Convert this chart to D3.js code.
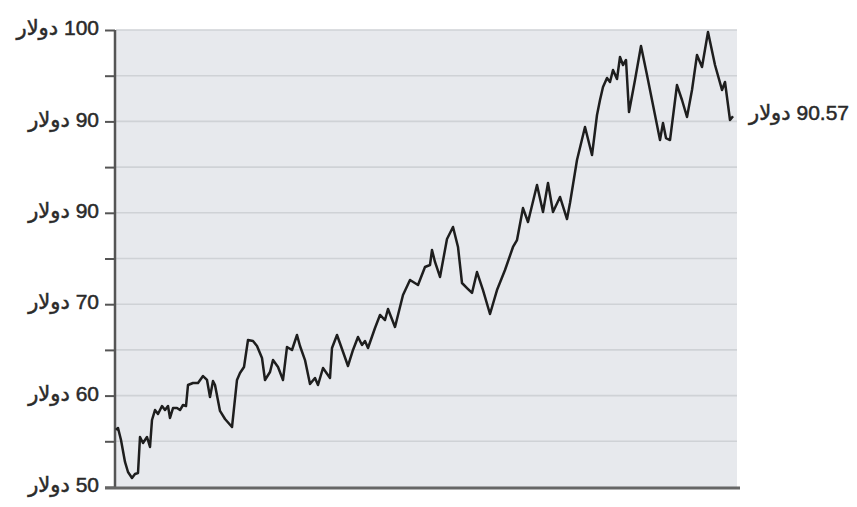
<!DOCTYPE html>
<html>
<head>
<meta charset="utf-8">
<script src="https://cdn.jsdelivr.net/npm/d3@7"></script>
<style>
  html, body { margin: 0; padding: 0; background: #fff; }
  svg { display: block; }
  text { font-family: "Liberation Sans", "DejaVu Sans", sans-serif; fill: #2a2a2a; }
</style>
</head>
<body>
<svg id="chart" width="857" height="507"></svg>
<script>
// trading-day index (relative) for each sampled point
const days = [
  0,2,5,9,12,16,19,22,24,27,
  31,34,36,39,42,46,49,52,54,57,
  61,64,67,70,72,77,82,87,91,94,
  97,99,104,109,116,121,124,128,132,137,
  141,146,149,154,157,162,167,171,176,181,
  184,189,194,199,202,207,214,216,221,226,
  232,237,242,246,249,252,259,264,269,272,
  279,287,294,302,309,314,316,319,324,331,
  337,342,346,351,356,361,367,374,381,389,
  397,401,407,412,421,427,432,437,444,451,
  454,461,469,476,481,484,487,491,494,497,
  501,504,507,510,513,519,525,531,537,544,
  547,550,554,561,566,571,576,581,586,592,
  599,606,609,614,617
];
// price in dollars
const prices = [
  56.24,56.46,55.14,52.74,51.64,50.98,51.42,51.53,55.47,54.81,
  55.47,54.38,57.33,58.42,57.99,58.86,58.42,58.86,57.55,58.64,
  58.64,58.42,58.97,58.86,61.16,61.38,61.38,62.14,61.71,59.85,
  61.60,61.16,58.32,57.44,56.56,61.71,62.47,63.13,66.08,65.97,
  65.43,64.11,61.71,62.58,63.89,63.13,61.71,65.32,64.99,66.63,
  65.43,63.89,61.27,61.93,61.16,63.02,61.93,65.21,66.63,65.10,
  63.24,64.99,66.41,65.54,65.97,65.21,67.40,68.82,68.27,69.47,
  67.51,71.01,72.65,72.10,74.07,74.29,75.93,74.62,72.98,77.13,
  78.45,76.26,72.32,71.77,71.23,73.52,71.55,68.93,71.55,73.74,
  76.26,77.02,80.52,78.99,83.04,80.09,83.26,80.09,81.73,79.32,
  81.07,85.78,89.39,86.32,90.70,92.34,93.76,94.75,94.31,95.62,
  94.64,97.05,96.17,96.72,91.03,94.53,98.25,95.08,91.79,87.96,
  89.82,88.18,87.96,93.98,92.34,90.48,93.44,97.26,95.95,99.78,
  96.17,93.44,94.31,90.15,90.57
];
const tickValues = [50,55,60,65,70,75,80,85,90,95,100];
const tickLabels = ["50 دولار","","60 دولار","","70 دولار","","90 دولار","","90 دولار","","100 دولار"];
const lastLabel = "90.57 دولار";

(function () {
const svg = d3.select("#chart");
const mLeft = 116, mRight = 737, mTop = 30, mBottom = 487;

const x = d3.scaleLinear().domain([0, 621]).range([mLeft, mRight]);
const y = d3.scaleLinear().domain([50, 100]).range([mBottom, mTop]);

// plot background
svg.append("rect")
  .attr("x", mLeft).attr("y", mTop)
  .attr("width", mRight - mLeft).attr("height", mBottom - mTop)
  .attr("fill", "#e7e9ed");

// grid lines
svg.append("g").selectAll("line")
  .data(tickValues.filter(v => v > 50))
  .join("line")
  .attr("x1", mLeft).attr("x2", mRight)
  .attr("y1", d => y(d)).attr("y2", d => y(d))
  .attr("stroke", "#cfd2d6").attr("stroke-width", 1.6);

// left axis
const axis = d3.axisLeft(y)
  .tickValues(tickValues)
  .tickSize(10)
  .tickPadding(6)
  .tickFormat((d, i) => tickLabels[i] ? "\u202B" + tickLabels[i] + "\u202C" : "");
const gAxis = svg.append("g")
  .attr("transform", `translate(${mLeft - 1},0)`)
  .call(axis);
gAxis.select(".domain").remove();
gAxis.selectAll(".tick line").attr("stroke", "#555").attr("stroke-width", 2);
gAxis.selectAll(".tick text")
  .attr("font-size", 21)
  .attr("dy", "0.22em")
  .attr("fill", "#2a2a2a")
  .attr("stroke", "#2a2a2a")
  .attr("stroke-width", 0.5)
  .style("font-family", '"Liberation Sans", "DejaVu Sans", sans-serif');

svg.append("line")
  .attr("x1", mLeft - 1).attr("x2", mLeft - 1)
  .attr("y1", mTop).attr("y2", mBottom + 2)
  .attr("stroke", "#555").attr("stroke-width", 2.5);

// bottom axis line
svg.append("line")
  .attr("x1", mLeft - 11).attr("x2", mRight + 3)
  .attr("y1", mBottom + 1).attr("y2", mBottom + 1)
  .attr("stroke", "#666").attr("stroke-width", 3);

// price line
const line = d3.line()
  .x((d, i) => x(days[i]))
  .y(d => y(d));
svg.append("path")
  .datum(prices)
  .attr("d", line)
  .attr("fill", "none")
  .attr("stroke", "#1e1e1e")
  .attr("stroke-width", 2.5)
  .attr("stroke-linejoin", "round");

// end label
svg.append("text")
  .attr("x", mRight + 12)
  .attr("y", y(prices[prices.length - 1]) - 4)
  .attr("dy", "0.35em")
  .attr("font-size", 21)
  .attr("stroke", "#2a2a2a")
  .attr("stroke-width", 0.5)
  .attr("text-anchor", "start")
  .text("\u202B" + lastLabel + "\u202C");
})();
</script>
</body>
</html>
